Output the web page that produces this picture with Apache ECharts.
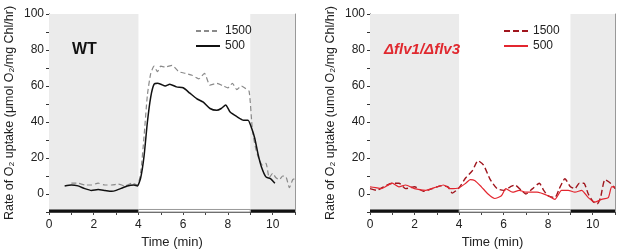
<!DOCTYPE html>
<html>
<head>
<meta charset="utf-8">
<script src="https://cdn.jsdelivr.net/npm/echarts@6/dist/echarts.min.js"></script>
<style>
  html, body { margin: 0; padding: 0; background: #fff; }
  #chart { width: 617px; height: 250px; }
</style>
</head>
<body>
<div id="chart"></div>
<script>
// WT, 500 and 1500 light
const wtTime500 = [0.7, 1.0, 1.3, 1.6, 1.9, 2.2, 2.5, 2.8, 3.0, 3.3, 3.5, 3.8, 3.95, 4.1, 4.25, 4.4, 4.55, 4.7, 4.85, 5.0, 5.2, 5.4, 5.7, 6.0, 6.3, 6.6, 6.9, 7.2, 7.5, 7.7, 7.9, 8.1, 8.4, 8.7, 8.9, 9.05, 9.2, 9.35, 9.5, 9.7, 9.9, 10.1]
const wt500 = [4.5, 5, 4.5, 3, 2, 2.5, 2, 1.5, 2, 3.5, 4.5, 5, 4.5, 9, 21, 40, 54, 61, 61.5, 61, 60, 61, 59.5, 59, 56, 53, 51, 47.5, 46.5, 47.5, 49.5, 45.5, 43, 41, 41, 37, 31, 22, 15, 9.5, 8.5, 6]
const wtTime1500 = [1.0, 1.3, 1.6, 1.9, 2.2, 2.5, 2.8, 3.1, 3.4, 3.7, 3.95, 4.1, 4.25, 4.4, 4.55, 4.7, 4.85, 5.0, 5.2, 5.5, 5.8, 6.1, 6.4, 6.7, 6.95, 7.2, 7.5, 7.8, 8.0, 8.2, 8.4, 8.6, 8.8, 8.95, 9.1, 9.25, 9.4, 9.55, 9.7, 9.85, 10.0, 10.15, 10.3, 10.45, 10.6, 10.75, 10.9, 11.0]
const wt1500 = [6, 6, 5, 5, 6, 5, 5, 5.5, 4.5, 6, 5, 12, 32, 55, 67, 71, 68, 71, 70.5, 71.5, 68, 67, 66, 64, 67, 60.5, 61.5, 60, 59, 61.5, 58, 60, 58.5, 57, 35, 25, 19, 16, 17, 9, 11.5, 9, 8, 10, 9.5, 3.5, 8, 8.5]

// flv1/flv3 mutant
const mutTime500 = [0, 0.25, 0.5, 0.75, 1.0, 1.3, 1.6, 2.0, 2.5, 3.0, 3.3, 3.6, 4.0, 4.3, 4.5, 4.7, 5.0, 5.3, 5.6, 5.9, 6.1, 6.4, 6.7, 7.0, 7.5, 8.0, 8.3, 8.6, 8.9, 9.2, 9.5, 9.8, 10.1, 10.4, 10.7, 10.85, 11.0]
const mut500 = [4, 3.5, 3, 4.5, 6, 4, 5, 3, 2, 4, 5, 3, 3.5, 6, 8, 7.5, 4, 0, -2.5, -1, 3, 1, 2, 1, 1, -1, -3, 2, 2, 1, 2, -2, -4.5, -3, -2, 4, 4]
const mutTime1500 = [0, 0.3, 0.6, 1.0, 1.3, 1.6, 2.0, 2.4, 2.8, 3.2, 3.5, 3.7, 4.0, 4.3, 4.6, 4.85, 5.1, 5.4, 5.7, 6.0, 6.3, 6.5, 6.8, 7.0, 7.3, 7.6, 7.8, 8.0, 8.3, 8.5, 8.75, 9.0, 9.2, 9.4, 9.6, 9.8, 10.0, 10.2, 10.35, 10.55, 10.8, 11.0]
const mut1500 = [3, 2, 4, 6, 6, 3, 4, 1.5, 3, 4.5, 4, 0.5, 3.5, 9, 13, 18.5, 16, 8, 3, 2, 4, 5, 2, 0, 3, 6, 2, -1, -2, 3, 8.5, 4, 3, 6, 6, 0, -4, -5.5, -2, 8, 6, 3]

// dark (0-4, 9-11) and light (4-9) periods
const darkPeriods = [[0, 4], [9, 11]]
const lightPeriods = [[4, 9]]

const zip = (xs, ys) => xs.map((x, i) => [x, ys[i]])
const font = '"Liberation Sans", Arial, sans-serif'

const xAxisBase = (gridIndex) => ({
  gridIndex,
  type: 'value',
  min: 0,
  max: 11,
  interval: 1,
  name: 'Time (min)',
  nameLocation: 'middle',
  nameGap: 22,
  nameTextStyle: { color: '#222', fontSize: 13, fontFamily: font },
  axisLine: { show: true, onZero: false, lineStyle: { color: '#444', width: 1 } },
  axisTick: { show: true, length: 3, lineStyle: { color: '#444' } },
  axisLabel: {
    color: '#222', fontSize: 12, fontFamily: font, margin: 7,
    formatter: (v) => (v % 2 === 0 && v <= 10 ? String(v) : ''),
  },
  splitLine: { show: false },
})

const yAxisBase = (gridIndex, unit) => ({
  gridIndex,
  type: 'value',
  min: -10,
  max: 100,
  interval: 10,
  name: 'Rate of O₂ uptake (' + unit + 'mol O₂/mg Chl/hr)',
  nameLocation: 'middle',
  nameGap: 33,
  nameTextStyle: { color: '#222', fontSize: 12.5, fontFamily: font },
  axisLine: { show: true, lineStyle: { color: '#333' } },
  axisTick: { show: true, length: 3, lineStyle: { color: '#333' } },
  axisLabel: {
    color: '#222', fontSize: 12, fontFamily: font, margin: 5,
    formatter: (v) => (v >= 0 && v % 20 === 0 ? String(v) : ''),
  },
  splitLine: { show: false },
})

const rightBorder = (gridIndex) => ({
  gridIndex,
  type: 'value',
  position: 'right',
  min: -10,
  max: 100,
  axisLine: { show: true, lineStyle: { color: '#999' } },
  axisTick: { show: false },
  axisLabel: { show: false },
  splitLine: { show: false },
})

const shadeSeries = (xi, yi) => ({
  type: 'line',
  xAxisIndex: xi,
  yAxisIndex: yi,
  data: [],
  silent: true,
  z: 1,
  markArea: {
    silent: true,
    itemStyle: { color: '#ebebeb' },
    data: darkPeriods.map((p) => [{ xAxis: p[0] }, { xAxis: p[1] }]),
  },
})

const barSeries = (xi, yi) => ({
  type: 'line',
  xAxisIndex: xi,
  yAxisIndex: yi,
  data: [],
  silent: true,
  z: 5,
  markArea: {
    silent: true,
    data: darkPeriods
      .map((p) => [
        { xAxis: p[0], yAxis: -10, itemStyle: { color: '#111' } },
        { xAxis: p[1], yAxis: -8.6 },
      ])
      .concat(
        lightPeriods.map((p) => [
          { xAxis: p[0], yAxis: -10, itemStyle: { color: '#fff', borderColor: '#999', borderWidth: 1 } },
          { xAxis: p[1], yAxis: -8.6 },
        ])
      ),
  },
})

const lineSeries = (name, xi, yi, data, color, type, width) => ({
  name,
  type: 'line',
  xAxisIndex: xi,
  yAxisIndex: yi,
  data,
  symbol: 'none',
  smooth: 0.2,
  z: 3,
  lineStyle: { color, type, width },
  itemStyle: { color },
})

const legendBase = (names, left) => ({
  data: names,
  orient: 'vertical',
  left,
  top: 20,
  itemWidth: 24,
  itemHeight: 10,
  itemGap: 3,
  itemStyle: { opacity: 0 },
  textStyle: { color: '#222', fontSize: 12, fontFamily: font },
  formatter: (n) => n.split(' ')[1],
  selectedMode: false,
})

const chart = echarts.init(document.getElementById('chart'), null, { renderer: 'canvas' })

chart.setOption({
  animation: false,
  backgroundColor: '#fff',
  grid: [
    { left: 49, right: 322, top: 14, bottom: 38, containLabel: false, outerBoundsMode: 'none' },
    { left: 370, right: 2, top: 14, bottom: 38, containLabel: false, outerBoundsMode: 'none' },
  ],
  xAxis: [xAxisBase(0), xAxisBase(1)],
  yAxis: [yAxisBase(0, 'μ'), yAxisBase(1, 'u'), rightBorder(0), rightBorder(1)],
  legend: [
    legendBase(['WT 1500', 'WT 500'], 190),
    legendBase(['flv 1500', 'flv 500'], 498),
  ],
  graphic: [
    {
      type: 'text',
      left: 72,
      top: 42,
      z: 100,
      style: { text: 'WT', fill: '#111', fontSize: 16, fontWeight: 'bold', fontFamily: font },
    },
    {
      type: 'text',
      left: 384,
      top: 42,
      z: 100,
      style: { text: 'Δflv1/Δflv3', fill: '#e0282e', fontSize: 15, fontWeight: 'bold', fontStyle: 'italic', fontFamily: font },
    },
  ],
  series: [
    shadeSeries(0, 0),
    shadeSeries(1, 1),
    barSeries(0, 0),
    barSeries(1, 1),
    lineSeries('WT 1500', 0, 0, zip(wtTime1500, wt1500), '#8a8a8a', [5, 3], 1.2),
    lineSeries('WT 500', 0, 0, zip(wtTime500, wt500), '#111', 'solid', 1.5),
    lineSeries('flv 1500', 1, 1, zip(mutTime1500, mut1500), '#a0151d', [6, 3], 1.4),
    lineSeries('flv 500', 1, 1, zip(mutTime500, mut500), '#e3262f', 'solid', 1.2),
  ],
})
</script>
</body>
</html>
